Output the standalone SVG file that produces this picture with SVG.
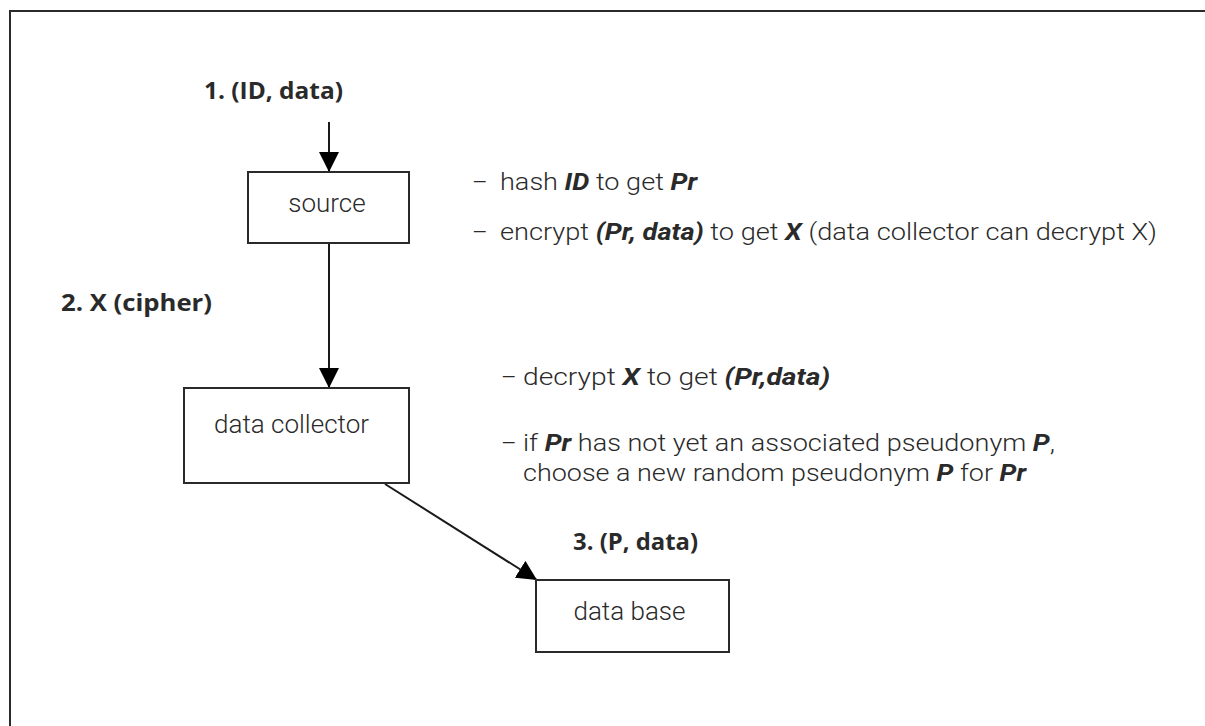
<svg xmlns="http://www.w3.org/2000/svg" width="1205" height="726" viewBox="0 0 1205 726">
<style>
.frame{fill:none;stroke:#2a2a2a;stroke-width:2}
.box{fill:#fff;stroke:#2a2a2a;stroke-width:2}
.lbl{font-family:Roboto,"Liberation Sans",sans-serif;font-weight:300;font-size:26px;fill:#2a2a2a;text-anchor:middle}
.step{font-family:"Open Sans","Liberation Sans",sans-serif;font-weight:700;font-size:24px;fill:#2a2a2a}
.note{font-family:Roboto,"Liberation Sans",sans-serif;font-weight:300;font-size:24px;fill:#2a2a2a}
.em{font-weight:700;font-style:italic}
.conn{stroke:#1a1a1a;stroke-width:2;fill:none}
</style>
<defs>
<marker id="ah" markerUnits="userSpaceOnUse" markerWidth="20" markerHeight="20" refX="20" refY="10" orient="auto" viewBox="0 0 20 20">
<path d="M0,0 L20,10 L0,20 z" fill="#000"/>
</marker>
</defs>
<path class="frame" d="M10,726 V11 H1205"/>
<g id="connectors">
<line class="conn" x1="329" y1="122" x2="329" y2="172" marker-end="url(#ah)"/>
<line class="conn" x1="329" y1="243" x2="329" y2="388" marker-end="url(#ah)"/>
<line class="conn" x1="385" y1="484" x2="537" y2="580" marker-end="url(#ah)"/>
</g>
<g id="source">
<rect class="box" x="248" y="172" width="161" height="71"/>
<text class="lbl" x="327" y="212">source</text>
</g>
<g id="data-collector">
<rect class="box" x="184" y="388" width="225" height="95"/>
<text class="lbl" x="291.5" y="433">data collector</text>
</g>
<g id="data-base">
<rect class="box" x="536" y="580" width="193" height="72"/>
<text class="lbl" x="629.5" y="620">data base</text>
</g>
<g id="labels">
<text class="step" x="204" y="99" textLength="139" lengthAdjust="spacingAndGlyphs">1. (ID, data)</text>
<text class="step" x="61" y="311" textLength="151" lengthAdjust="spacingAndGlyphs">2. X (cipher)</text>
<text class="step" x="573" y="550" textLength="125" lengthAdjust="spacingAndGlyphs">3. (P, data)</text>
</g>
<g id="notes">
<text class="note" x="472" y="190">–</text>
<text class="note" x="500" y="190" textLength="197" lengthAdjust="spacingAndGlyphs">hash <tspan class="em">ID</tspan> to get <tspan class="em">Pr</tspan></text>
<text class="note" x="472" y="240">–</text>
<text class="note" x="500" y="240" textLength="657" lengthAdjust="spacingAndGlyphs">encrypt <tspan class="em">(Pr, data)</tspan> to get <tspan class="em">X</tspan> (data collector can decrypt X)</text>
<text class="note" x="501" y="385">–</text>
<text class="note" x="523" y="385" textLength="307" lengthAdjust="spacingAndGlyphs">decrypt <tspan class="em">X</tspan> to get <tspan class="em">(Pr,data)</tspan></text>
<text class="note" x="501" y="451">–</text>
<text class="note" x="523" y="451" textLength="532" lengthAdjust="spacingAndGlyphs">if <tspan class="em">Pr</tspan> has not yet an associated pseudonym <tspan class="em">P</tspan>,</text>
<text class="note" x="523" y="481" textLength="503" lengthAdjust="spacingAndGlyphs">choose a new random pseudonym <tspan class="em">P</tspan> for <tspan class="em">Pr</tspan></text>
</g>
</svg>
